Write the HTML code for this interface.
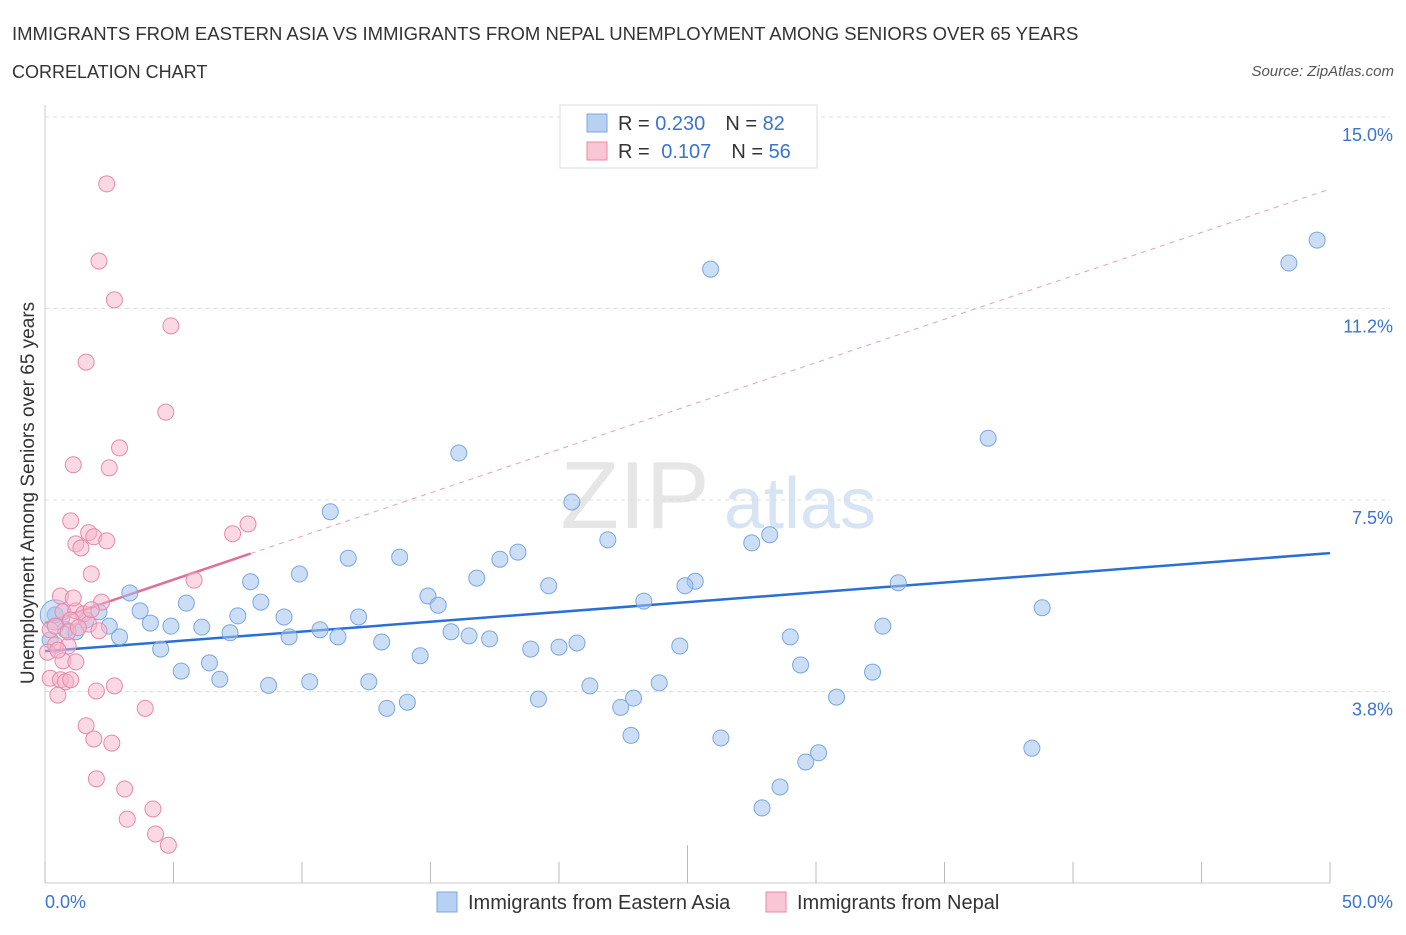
<!DOCTYPE html>
<html><head><meta charset="utf-8"><style>
body{margin:0;background:#fff;font-family:"Liberation Sans",sans-serif;}
svg text{font-family:"Liberation Sans",sans-serif;}
</style></head><body>
<svg id="chart" width="1406" height="930" viewBox="0 0 1406 930">
<text x="12" y="40" font-size="18.5" fill="#333">IMMIGRANTS FROM EASTERN ASIA VS IMMIGRANTS FROM NEPAL UNEMPLOYMENT AMONG SENIORS OVER 65 YEARS</text>
<text x="12" y="78" font-size="18" fill="#333">CORRELATION CHART</text>
<text x="1394" y="76" font-size="15" fill="#555" font-style="italic" text-anchor="end">Source: ZipAtlas.com</text>
<g>
<text x="635" y="528" font-size="96" fill="#e6e6e6" font-family="Liberation Serif" text-anchor="middle">ZIP</text>
<text x="800" y="528" font-size="72" fill="#d7e4f4" text-anchor="middle">atlas</text>
</g>
<g id="grid"></g>
<g id="axes"></g>
<g id="trends"></g>
<g id="points"></g>
<text transform="translate(34,493) rotate(-90)" font-size="19" fill="#333" text-anchor="middle">Unemployment Among Seniors over 65 years</text>
<g>
<rect x="560" y="105" width="257" height="63" fill="#fff" stroke="#ddd"/>
<rect x="587" y="114" width="20" height="18" fill="#b7d1f3" stroke="#7aa8e0"/>
<text x="618" y="130" font-size="20" fill="#333">R = <tspan fill="#3a74d0">0.230</tspan><tspan dx="20">N = </tspan><tspan fill="#3a74d0">82</tspan></text>
<rect x="587" y="142" width="20" height="18" fill="#f8c6d5" stroke="#e889a8"/>
<text x="618" y="158" font-size="20" fill="#333">R = <tspan dx="6" fill="#3a74d0">0.107</tspan><tspan dx="20">N = </tspan><tspan fill="#3a74d0">56</tspan></text>
</g>
<g>
<rect x="437" y="892" width="20" height="20" fill="#b7d1f3" stroke="#7aa8e0"/>
<text x="468" y="909" font-size="20" fill="#333">Immigrants from Eastern Asia</text>
<rect x="766" y="892" width="20" height="20" fill="#f8c6d5" stroke="#e889a8"/>
<text x="797" y="909" font-size="20" fill="#333">Immigrants from Nepal</text>
</g>
</svg>
<script>
const yTicks=[3.8,7.5,11.2,15.0];
const yTickVals=[3.75,7.5,11.25,15];
const xTickLabels=["0.0%","50.0%"];
const blueX=[25.9,48.4,49.5,36.7,16.1,20.5,11.1,28.2,27.5,21.9,18.4,11.8,13.8,17.7,9.9,16.8,8.0,19.6,25.3,24.9,33.2,3.3,5.5,8.4,14.9,15.3,23.3,38.8,3.7,7.5,9.3,12.2,2.1,4.1,4.9,6.1,7.2,9.5,10.7,11.4,15.8,16.5,17.3,2.5,2.9,32.6,29.0,13.1,20.7,20.0,18.9,24.7,4.5,14.6,6.4,29.4,5.3,32.2,6.8,8.7,10.3,12.6,21.2,23.9,22.9,19.2,14.1,30.8,13.3,22.4,22.8,26.3,38.4,30.1,29.6,28.6,27.9,0.4,0.8,1.2,1.6,0.2];
const blueY=[12.02,12.14,12.59,8.71,8.42,7.46,7.27,6.82,6.66,6.72,6.48,6.36,6.38,6.34,6.05,5.97,5.90,5.82,5.91,5.82,5.88,5.68,5.48,5.50,5.62,5.44,5.52,5.39,5.33,5.23,5.21,5.21,5.31,5.09,5.03,5.01,4.90,4.82,4.96,4.82,4.92,4.84,4.78,5.03,4.82,5.03,4.82,4.72,4.70,4.62,4.58,4.64,4.58,4.45,4.31,4.27,4.15,4.13,3.99,3.87,3.94,3.94,3.86,3.92,3.62,3.60,3.54,3.64,3.42,3.44,2.89,2.84,2.64,2.55,2.37,1.88,1.47,5.25,4.96,4.92,5.15,4.76];
const pinkX=[2.4,2.1,2.7,4.9,1.6,4.7,2.9,1.1,2.5,1.0,7.9,7.3,1.7,1.9,1.2,1.4,2.4,1.8,5.8,0.6,2.2,0.7,1.2,1.5,1.0,1.7,2.1,0.2,0.4,0.9,0.1,0.7,1.2,0.2,0.6,0.8,1.0,2.7,2.0,0.5,3.9,1.6,1.9,2.6,2.0,3.1,4.2,3.2,4.3,4.8,0.4,0.9,1.3,0.5,1.1,1.8];
const pinkY=[13.69,12.18,11.42,10.91,10.20,9.22,8.52,8.19,8.13,7.09,7.03,6.84,6.86,6.78,6.64,6.56,6.70,6.05,5.93,5.62,5.50,5.31,5.33,5.27,5.15,5.07,4.94,4.96,4.66,4.64,4.52,4.35,4.33,4.01,3.98,3.94,3.98,3.86,3.76,3.68,3.42,3.08,2.82,2.74,2.04,1.84,1.45,1.25,0.96,0.74,5.03,4.92,5.00,4.56,5.58,5.35];
const blueTrend=[4.54,6.46];
const pinkTrend=[5.09,0.170];
const NS="http://www.w3.org/2000/svg";
const X0=45,X1=1330,Y0=883,Y15=117;
const sx=v=>X0+(v/50)*(X1-X0);
const sy=v=>Y0-(v/15)*(Y0-Y15);
function mk(tag,attrs,parent){const e=document.createElementNS(NS,tag);for(const k in attrs)e.setAttribute(k,attrs[k]);parent.appendChild(e);return e;}
const grid=document.getElementById('grid'),axes=document.getElementById('axes'),tr=document.getElementById('trends'),pts=document.getElementById('points');
yTickVals.forEach((v,i)=>{
 const l=mk('line',{x1:X0,x2:X1+60,y1:sy(v),y2:sy(v),stroke:'#ddd','stroke-dasharray':'4,4'},grid);
 
 
 const t=mk('text',{x:1393,y:sy(v)+24,'font-size':18,fill:'#3a74d0','text-anchor':'end'},grid);
 t.textContent=yTicks[i].toFixed(1)+'%';
 
 
});
const ya=mk('line',{x1:X0,x2:X0,y1:105,y2:Y0,stroke:'#ccc'},axes);


const xa=mk('line',{x1:X0,x2:X1,y1:Y0,y2:Y0,stroke:'#ccc'},axes);


for(let i=0;i<=10;i++){
 const tk=mk('line',{x1:sx(i*5),x2:sx(i*5),y1:i==5?845:862,y2:Y0,stroke:'#bbb'},axes);
 
 
}
const xl0=mk('text',{x:45,y:908,'font-size':18,fill:'#3a74d0'},axes);xl0.textContent=xTickLabels[0];


const xl1=mk('text',{x:1393,y:908,'font-size':18,fill:'#3a74d0','text-anchor':'end'},axes);xl1.textContent=xTickLabels[1];


blueX.forEach((x,i)=>{
 const c=mk('circle',{cx:sx(x),cy:sy(blueY[i]),r:8,fill:'rgba(160,194,238,0.55)',stroke:'#7aa8e0','stroke-width':1},pts);
 
 
});
const big=mk('circle',{cx:sx(blueX[77]),cy:sy(blueY[77]),r:15,fill:'rgba(160,194,238,0.45)',stroke:'#7aa8e0'},pts);


pinkX.forEach((x,i)=>{
 const c=mk('circle',{cx:sx(x),cy:sy(pinkY[i]),r:8,fill:'rgba(245,180,201,0.5)',stroke:'#e889a8','stroke-width':1},pts);
 
 
});
const bt=mk('line',{x1:sx(0),y1:sy(blueTrend[0]),x2:sx(50),y2:sy(blueTrend[1]),stroke:'#2a6fd6','stroke-width':2.5},tr);


const pd=mk('line',{x1:sx(8),y1:sy(pinkTrend[0]+8*pinkTrend[1]),x2:sx(50),y2:sy(pinkTrend[0]+50*pinkTrend[1]),stroke:'#e8a0b8','stroke-width':1,'stroke-dasharray':'5,5'},tr);


const ps=mk('line',{x1:sx(0),y1:sy(pinkTrend[0]),x2:sx(8),y2:sy(pinkTrend[0]+8*pinkTrend[1]),stroke:'#e0709a','stroke-width':2.5},tr);


</script>
</body></html>
